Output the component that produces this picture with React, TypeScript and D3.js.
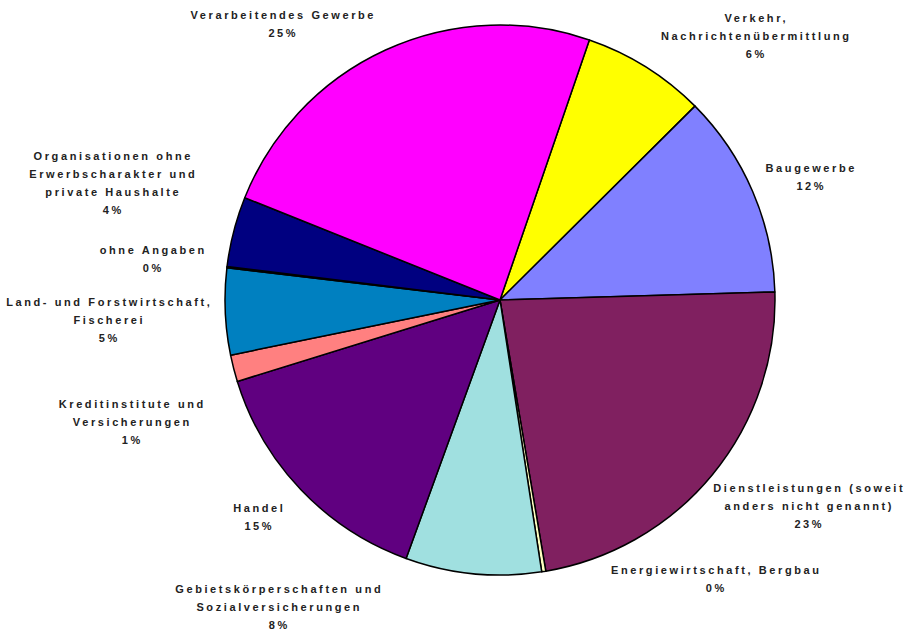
import React from "react";
import * as d3 from "d3";

const categories = [
  "Verkehr, Nachrichtenübermittlung",
  "Baugewerbe",
  "Dienstleistungen (soweit anders nicht genannt)",
  "Energiewirtschaft, Bergbau",
  "Gebietskörperschaften und Sozialversicherungen",
  "Handel",
  "Kreditinstitute und Versicherungen",
  "Land- und Forstwirtschaft, Fischerei",
  "ohne Angaben",
  "Organisationen ohne Erwerbscharakter und private Haushalte",
  "Verarbeitendes Gewerbe",
];

// shares in percent
const values = [7.28, 11.99, 22.8, 0.24, 7.97, 14.67, 1.57, 5.08, 0.08, 4.12, 24.2];

const percentLabels = ["6%", "12%", "23%", "0%", "8%", "15%", "1%", "5%", "0%", "4%", "25%"];

const labelLines = [
  ["Verkehr,", "Nachrichtenübermittlung"],
  ["Baugewerbe"],
  ["Dienstleistungen (soweit", "anders nicht genannt)"],
  ["Energiewirtschaft, Bergbau"],
  ["Gebietskörperschaften und", "Sozialversicherungen"],
  ["Handel"],
  ["Kreditinstitute und", "Versicherungen"],
  ["Land- und Forstwirtschaft,", "Fischerei"],
  ["ohne Angaben"],
  ["Organisationen ohne", "Erwerbscharakter und", "private Haushalte"],
  ["Verarbeitendes Gewerbe"],
];

const colors = [
  "#FFFF00",
  "#8080FF",
  "#802060",
  "#FFFFC0",
  "#A0E0E0",
  "#600080",
  "#FF8080",
  "#0080C0",
  "#C0C0FF",
  "#000080",
  "#FF00FF",
];

// label anchor positions (center x, first baseline y)
const labelPos: [number, number][] = [
  [755, 22],
  [810, 172],
  [808, 492],
  [715, 574],
  [278, 593],
  [258, 512],
  [131, 408],
  [108, 306],
  [152, 254],
  [112, 160],
  [282, 19],
];

const W = 905;
const H = 635;
const cx = 500;
const cy = 300;
const R = 275;
const startDeg = 18.96;

export default function App() {
  const start = (startDeg * Math.PI) / 180;
  const pie = d3
    .pie<number>()
    .sort(null)
    .value((d) => d)
    .startAngle(start)
    .endAngle(start + 2 * Math.PI);
  const arcs = pie(values);
  const arc = d3.arc<d3.PieArcDatum<number>>().innerRadius(0).outerRadius(R);
  const ls = 2.6;
  const lh = 18;

  return (
    <svg
      width={W}
      height={H}
      style={{ position: "absolute", left: 0, top: 0, background: "#fff" }}
    >
      <g transform={`translate(${cx},${cy})`}>
        {arcs.map((a, i) => (
          <path
            key={categories[i]}
            d={arc(a) || ""}
            fill={colors[i]}
            stroke="#000"
            strokeWidth={1.5}
            strokeLinejoin="round"
          />
        ))}
      </g>
      <g
        fontFamily="'Liberation Sans', Arial, sans-serif"
        fontSize={11}
        fontWeight="bold"
        fill="#222"
        textAnchor="middle"
        letterSpacing={ls}
      >
        {labelLines.map((lines, i) => {
          const [x, y] = labelPos[i];
          const all = [...lines, percentLabels[i]];
          return (
            <text key={categories[i]} x={x + ls / 2} y={y}>
              {all.map((t, j) => (
                <tspan key={j} x={x + ls / 2} y={y + j * lh}>
                  {t}
                </tspan>
              ))}
            </text>
          );
        })}
      </g>
    </svg>
  );
}
